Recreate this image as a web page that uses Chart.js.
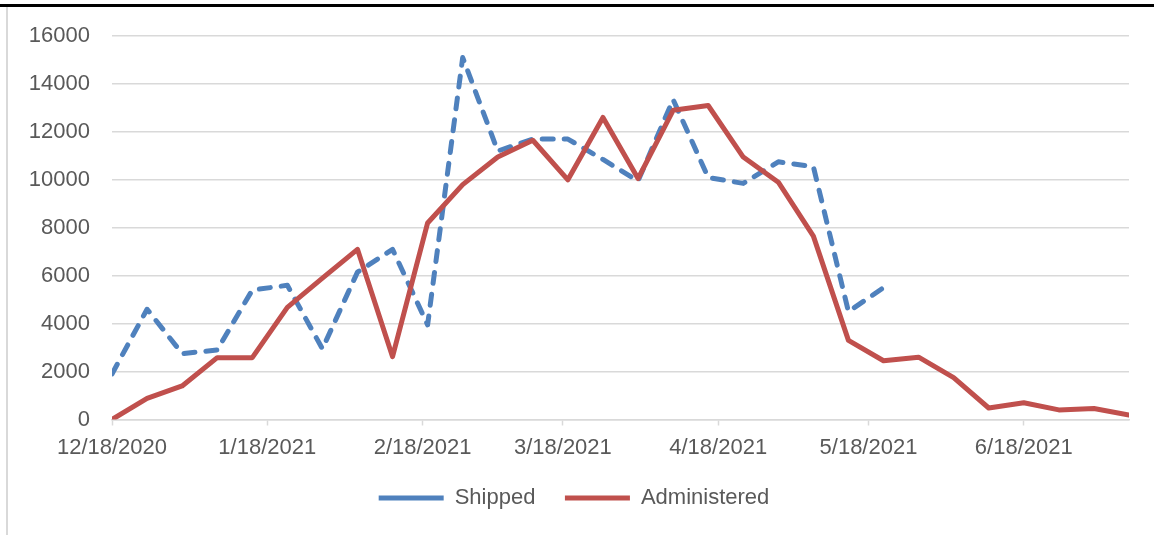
<!DOCTYPE html>
<html>
<head>
<meta charset="utf-8">
<script src="https://cdn.jsdelivr.net/npm/chart.js@4"></script>
<style>
  html, body { margin: 0; padding: 0; background: #fff; }
  #wrap { position: relative; width: 1154px; height: 535px; overflow: hidden; }
  #topRule { position: absolute; left: 0; top: 4px; width: 1154px; height: 3px; background: #000; }
  #leftRule { position: absolute; left: 6px; top: 7px; width: 2px; bottom: 0; background: #d9d9d9; }
  canvas { position: absolute; left: 0; top: 0; }
</style>
</head>
<body>
<div id="wrap">
  <canvas id="vaxChart" width="1154" height="535"></canvas>
  <div id="topRule"></div>
  <div id="leftRule"></div>
</div>
<script>
// weekly report dates
const weekDates = [
  "12/18/2020", "12/25/2020", "1/1/2021", "1/8/2021", "1/15/2021", "1/22/2021",
  "1/29/2021", "2/5/2021", "2/12/2021", "2/19/2021", "2/26/2021", "3/5/2021",
  "3/12/2021", "3/19/2021", "3/26/2021", "4/2/2021", "4/9/2021", "4/16/2021",
  "4/23/2021", "4/30/2021", "5/7/2021", "5/14/2021", "5/21/2021", "5/28/2021",
  "6/4/2021", "6/11/2021", "6/18/2021", "6/25/2021", "7/2/2021", "7/9/2021"
];
const shipped = [
  1900, 4600, 2750, 2900, 5400, 5600, 2950, 6150, 7100, 3950,
  15100, 11200, 11700, 11700, 10850, 9950, 13350, 10100, 9850, 10750,
  10550, 4500, 5500
];
const administered = [
  0, 880, 1400, 2580, 2580, 4680, 5900, 7100, 2620, 8200,
  9800, 10950, 11650, 10000, 12600, 10050, 12900, 13100, 10950, 9900,
  7650, 3300, 2450, 2600, 1750, 480, 700, 400, 460, 190
];
const tickDates = ["12/18/2020", "1/18/2021", "2/18/2021", "3/18/2021", "4/18/2021", "5/18/2021", "6/18/2021"];
const yTicks = [0, 2000, 4000, 6000, 8000, 10000, 12000, 14000, 16000];

const toUtc = function (s) {
  const p = s.split("/").map(Number);
  return Date.UTC(p[2], p[0] - 1, p[1]);
};
const start = toUtc(weekDates[0]);
const dayOf = function (s) {
  return Math.round((toUtc(s) - start) / 86400000);
};

const grey = "#d9d9d9";
const textGrey = "#595959";
const fontFam = "'Liberation Sans', Arial, sans-serif";

const ctx = document.getElementById("vaxChart").getContext("2d");
const vaxChart = new Chart(ctx, {
  type: "line",
  data: {
    datasets: [
      {
        label: "Shipped",
        data: shipped.map((v, i) => ({ x: dayOf(weekDates[i]), y: v })),
        borderColor: "#4F81BD",
        backgroundColor: "#4F81BD",
        borderWidth: 5,
        borderDash: [11, 11],
        borderCapStyle: "round",
        borderJoinStyle: "round",
        pointRadius: 0,
        tension: 0,
        order: 1,
      },
      {
        label: "Administered",
        data: administered.map((v, i) => ({ x: dayOf(weekDates[i]), y: v })),
        borderColor: "#C0504D",
        backgroundColor: "#C0504D",
        borderWidth: 5,
        borderCapStyle: "round",
        borderJoinStyle: "round",
        pointRadius: 0,
        tension: 0,
        order: 0,
      },
    ],
  },
  options: {
    responsive: false,
    animation: false,
    devicePixelRatio: 1,
    layout: {
      padding: { left: 19, right: 25, top: 36, bottom: 16 },
    },
    plugins: {
      tooltip: { enabled: false },
      legend: {
        position: "bottom",
        labels: {
          usePointStyle: true,
          pointStyle: "line",
          pointStyleWidth: 65,
          padding: 29.5,
          color: textGrey,
          font: { family: fontFam, size: 22 },
          sort: (a, b) => a.datasetIndex - b.datasetIndex,
        },
      },
    },
    scales: {
      x: {
        type: "linear",
        min: 0,
        max: dayOf(weekDates[weekDates.length - 1]),
        afterBuildTicks: (scale) => {
          scale.ticks = tickDates.map((d) => ({ value: dayOf(d) }));
        },
        grid: {
          drawOnChartArea: false,
          drawTicks: true,
          tickLength: 18,
          tickColor: grey,
          tickWidth: 1.5,
          // only the first 5px of the tick line shows
          tickBorderDash: [5, 100],
        },
        border: { display: true, color: grey, width: 1.5 },
        ticks: {
          autoSkip: false,
          maxRotation: 0,
          padding: 0,
          color: textGrey,
          font: { family: fontFam, size: 22, lineHeight: "20px" },
          callback: (value, index) => tickDates[index],
        },
      },
      y: {
        min: 0,
        max: 16000,
        afterBuildTicks: (scale) => {
          scale.ticks = yTicks.map((v) => ({ value: v }));
        },
        afterFit: (scale) => {
          scale.width = 93;
        },
        grid: {
          color: grey,
          lineWidth: 1.5,
          drawTicks: false,
        },
        border: { display: false },
        ticks: {
          padding: 22,
          color: textGrey,
          font: { family: fontFam, size: 22 },
          callback: (value) => String(value),
        },
      },
    },
  },
});
</script>
</body>
</html>
